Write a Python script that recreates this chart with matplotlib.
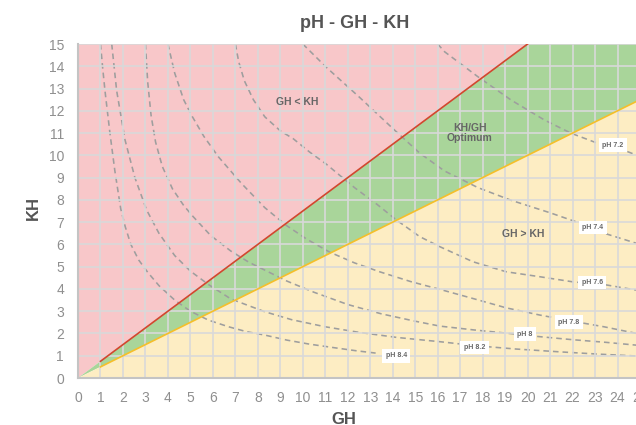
import matplotlib
matplotlib.use('Agg')
import matplotlib.pyplot as plt

plt.rcParams['font.family'] = ['Liberation Sans', 'DejaVu Sans']

# Zone boundaries (GH, KH)
red_line_gh = [1, 20]
red_line_kh = [0.75, 15]
yellow_line_gh = [1, 25]
yellow_line_kh = [0.5, 12.5]

# pH iso-lines, read point by point (GH, KH)
ph_curves = {
    'pH 8.4': ([1.0, 1.1, 1.2, 1.42, 1.64, 1.9, 2.1, 2.35, 2.7, 3.1, 3.6, 4.3, 5.0, 5.8,
                6.7, 7.5, 8.3, 9.3, 10.3, 11.4, 12.4, 13.4],
               [15.0, 13.9, 12.9, 11.0, 9.3, 7.6, 6.8, 6.0, 5.3, 4.75, 4.15, 3.5, 3.0, 2.6,
                2.3, 2.08, 1.93, 1.7, 1.52, 1.36, 1.22, 1.1]),
    'pH 8.2': ([1.5, 1.72, 2.09, 2.53, 3.05, 3.6, 4.3, 5.0, 5.8, 6.8, 8.3, 9.5, 11.0, 12.5,
                14.2, 16.1, 17.8, 19.5, 21.5, 23.2, 25],
               [15.0, 12.9, 10.7, 9.0, 7.55, 6.5, 5.5, 4.8, 4.2, 3.55, 2.98, 2.62, 2.3, 2.05,
                1.82, 1.63, 1.44, 1.3, 1.17, 1.07, 0.98]),
    'pH 8': ([3.0, 3.1, 3.25, 3.45, 3.75, 4.2, 4.7, 5.12, 5.9, 6.8, 7.6, 8.3, 9.3, 10.5,
              12, 13.5, 15, 16.1, 17.6, 19.2, 20.5, 22, 23.5, 25],
             [15.0, 13.3, 11.8, 10.6, 9.5, 8.5, 7.75, 7.25, 6.4, 5.7, 5.2, 4.85, 4.35, 3.85,
              3.3, 2.88, 2.55, 2.33, 2.16, 2.0, 1.86, 1.72, 1.6, 1.46]),
    'pH 7.8': ([4.0, 4.3, 4.7, 5.05, 5.6, 6.24, 7.27, 8.31, 9.27, 10.2, 11.2, 12.3, 13.42,
                14.8, 16.1, 17.57, 19.05, 20.53, 22.0, 23.4, 25],
               [15.0, 13.7, 12.5, 11.8, 10.85, 9.94, 8.74, 7.65, 6.85, 6.22, 5.65, 5.17, 4.77,
                4.33, 3.98, 3.57, 3.15, 2.83, 2.55, 2.3, 1.97]),
    'pH 7.6': ([7.0, 7.15, 7.4, 7.8, 8.31, 9.0, 9.57, 10.3, 11.05, 12.3, 13.3, 14.16, 15.2,
                16.09, 17.57, 19.05, 20.53, 22.0, 23.5, 25],
               [15.0, 14.2, 13.35, 12.5, 11.73, 11.1, 10.75, 10.15, 9.6, 8.55, 7.8, 7.1, 6.35,
                5.9, 5.22, 4.77, 4.55, 4.32, 4.18, 3.92]),
    'pH 7.4': ([10.0, 11.05, 12.53, 14.01, 15.2, 16.3, 17.79, 19.27, 21.0, 22.2, 23.57, 25],
               [15.0, 13.95, 12.6, 11.2, 10.1, 9.3, 8.55, 7.98, 7.42, 7.0, 6.45, 6.0]),
    'pH 7.2': ([16.0, 16.31, 17.79, 19.27, 20.76, 21.94, 23.12, 24.46, 25],
               [15.0, 14.65, 13.53, 12.48, 11.58, 10.99, 10.54, 10.16, 9.95]),
}

# where each pH tag sits (GH, KH)
ph_label_pos = {
    'pH 7.2': (23.79, 10.46),
    'pH 7.4': (22.9, 6.76),
    'pH 7.6': (22.87, 4.29),
    'pH 7.8': (21.83, 2.51),
    'pH 8': (19.87, 1.97),
    'pH 8.2': (17.64, 1.37),
    'pH 8.4': (14.16, 1.0),
}

zone_labels = [
    ('GH < KH', 9.76, 12.4),
    ('KH/GH\nOptimum', 17.42, 11.0),
    ('GH > KH', 19.79, 6.47),
]

gh_ticks = list(range(0, 26))
kh_ticks = list(range(0, 16))

fig = plt.figure(figsize=(6.36, 4.25), dpi=100, facecolor='w')
ax = fig.add_axes([78/636, 47/425, 562/636, 334/425])
ax.set_xlim(0, 25)
ax.set_ylim(0, 15)

# coloured zones
ax.fill([0, red_line_gh[1], 0], [0, red_line_kh[1], 15], color='#f8c7c9', lw=0, zorder=0)
ax.fill([0, red_line_gh[1], 25, yellow_line_gh[1]],
        [0, red_line_kh[1], 15, yellow_line_kh[1]], color='#a9d59a', lw=0, zorder=0)
ax.fill([0, yellow_line_gh[1], 25], [0, yellow_line_kh[1], 0], color='#fdedc3', lw=0, zorder=0)

ax.set_xticks(gh_ticks)
ax.set_yticks(kh_ticks)
ax.grid(True, color='#d9d9d9', lw=1.2, zorder=1)
ax.set_axisbelow(False)
for gl in ax.get_xgridlines() + ax.get_ygridlines():
    gl.set_zorder(1)

for name, (gh, kh) in ph_curves.items():
    ax.plot(gh, kh, color='#9e9e9e', lw=1.15, dashes=(3.5, 2.5), zorder=2,
            solid_joinstyle='round', dash_joinstyle='round')

ax.plot(red_line_gh, red_line_kh, color='#d2472f', lw=1.2, zorder=3)
ax.plot(yellow_line_gh, yellow_line_kh, color='#f5bf2a', lw=1.2, zorder=3)

for name, (x, y) in ph_label_pos.items():
    ax.text(x, y, name, fontsize=5, fontweight='bold', color='#666666', ha='center', va='center',
            zorder=4, bbox=dict(boxstyle='square,pad=0.5', fc='white', ec='none'))

for txt, x, y in zone_labels:
    ax.text(x, y, txt, fontsize=7.5, fontweight='bold', color='#666666', ha='center', va='center',
            zorder=4, linespacing=1.1)

ax.tick_params(length=0, labelsize=10, labelcolor='#8f8f8f')
ax.tick_params(axis='x', pad=9)
ax.tick_params(axis='y', pad=10)
for s in ['top', 'right']:
    ax.spines[s].set_visible(False)
for s in ['bottom', 'left']:
    ax.spines[s].set_color('#c4c4c4')
    ax.spines[s].set_linewidth(1.5)
    ax.spines[s].set_zorder(5)

fig.text(355/636, 1 - 24/425, 'pH - GH - KH', fontsize=13, fontweight='bold', color='#555555',
         ha='center', va='center')
fig.text(344/636, 1 - 419/425, 'GH', fontsize=12, fontweight='bold', color='#555555',
         ha='center', va='center')
fig.text(33/636, 1 - 208/425, 'KH', fontsize=12, fontweight='bold', color='#555555',
         ha='center', va='center', rotation=90)

fig.savefig('out.png', dpi=100)
